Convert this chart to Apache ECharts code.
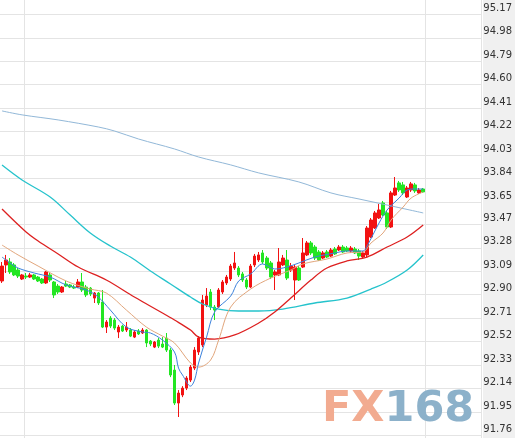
<!DOCTYPE html>
<html>
<head>
<meta charset="utf-8">
<script src="https://cdn.jsdelivr.net/npm/echarts@6/dist/echarts.min.js"></script>
<style>html,body{margin:0;padding:0;background:#fff}#c{width:515px;height:438px}</style>
</head>
<body>
<div id="c"></div>
<script>
// price axis tick labels
const tickLabels = [95.17, 94.98, 94.79, 94.60, 94.41, 94.22, 94.03, 93.84, 93.65, 93.47, 93.28, 93.09, 92.90, 92.71, 92.52, 92.33, 92.14, 91.95, 91.76];
// session separators (category index)
const dayBreaks = [6, 106];
// candles: [open, close, low, high]
const candles = [
[93.011,93.132,92.995,93.165],[93.141,93.181,93.076,93.222],[93.165,93.084,93.068,93.197],[93.141,93.060,93.051,93.157],
[93.100,93.051,93.035,93.116],[93.027,93.060,93.019,93.068],[93.051,93.043,93.027,93.076],[93.043,93.060,93.035,93.076],
[93.060,93.027,93.019,93.068],[93.043,93.011,93.003,93.051],[93.027,92.995,92.987,93.035],[92.995,93.084,92.987,93.092],
[93.060,93.019,93.003,93.076],[93.003,92.898,92.873,93.011],[92.970,92.922,92.906,92.987],[92.922,92.962,92.914,92.970],
[92.987,92.970,92.962,93.011],[92.979,92.962,92.954,92.987],[92.962,92.954,92.946,92.979],[92.962,93.003,92.954,93.027],
[93.003,92.938,92.922,93.076],[92.962,92.898,92.881,92.979],[92.954,92.906,92.889,92.962],[92.873,92.914,92.833,92.922],
[92.914,92.833,92.817,92.922],[92.841,92.638,92.630,92.938],[92.638,92.679,92.590,92.695],[92.711,92.646,92.630,92.727],
[92.695,92.630,92.614,92.711],[92.598,92.638,92.549,92.655],[92.646,92.606,92.598,92.655],[92.614,92.638,92.598,92.679],
[92.614,92.565,92.557,92.630],[92.557,92.598,92.549,92.614],[92.606,92.582,92.574,92.622],[92.590,92.614,92.582,92.630],
[92.614,92.509,92.476,92.622],[92.525,92.501,92.484,92.533],[92.476,92.517,92.468,92.525],[92.533,92.484,92.468,92.549],
[92.501,92.476,92.468,92.557],[92.549,92.452,92.436,92.590],[92.452,92.250,92.233,92.468],[92.290,92.023,92.007,92.331],
[92.023,92.104,91.910,92.128],[92.088,92.144,92.071,92.160],[92.144,92.225,92.128,92.241],[92.209,92.314,92.193,92.331],
[92.306,92.452,92.290,92.476],[92.436,92.549,92.412,92.565],[92.493,92.857,92.476,92.898],[92.817,92.889,92.800,92.954],
[92.922,92.800,92.776,92.946],[92.800,92.776,92.695,92.817],[92.800,92.938,92.792,92.954],[92.922,93.003,92.906,93.019],
[92.995,93.043,92.979,93.060],[93.027,93.132,93.011,93.149],[93.116,93.157,93.100,93.246],[93.116,93.060,93.043,93.132],
[93.068,93.019,93.003,93.084],[93.019,92.962,92.946,93.035],[92.962,93.132,92.954,93.149],[93.141,93.213,93.124,93.230],
[93.181,93.222,93.165,93.246],[93.238,93.165,93.149,93.262],[93.197,93.116,93.100,93.213],[93.157,93.043,93.027,93.173],
[93.060,93.084,92.938,93.100],[93.060,93.165,93.051,93.278],[93.141,93.197,93.132,93.222],[93.181,93.035,93.019,93.262],
[93.100,93.132,93.084,93.157],[93.019,93.124,92.857,93.141],[93.116,93.019,93.011,93.132],[93.124,93.238,93.116,93.359],
[93.222,93.319,93.213,93.335],[93.319,93.238,93.222,93.335],[93.286,93.197,93.181,93.302],[93.246,93.181,93.173,93.262],
[93.197,93.238,93.189,93.254],[93.246,93.205,93.197,93.262],[93.213,93.262,93.205,93.278],[93.270,93.230,93.222,93.286],
[93.262,93.286,93.254,93.302],[93.286,93.246,93.238,93.302],[93.278,93.254,93.246,93.294],[93.254,93.278,93.238,93.294],
[93.270,93.238,93.230,93.286],[93.254,93.213,93.181,93.270],[93.205,93.238,93.189,93.254],[93.222,93.440,93.205,93.456],
[93.367,93.505,93.359,93.521],[93.440,93.562,93.432,93.578],[93.521,93.586,93.513,93.635],[93.643,93.545,93.537,93.659],
[93.562,93.448,93.432,93.578],[93.448,93.724,93.440,93.740],[93.707,93.764,93.699,93.853],[93.805,93.748,93.732,93.821],
[93.789,93.724,93.707,93.813],[93.691,93.764,93.683,93.780],[93.748,93.797,93.732,93.813],[93.789,93.740,93.724,93.805],
[93.724,93.748,93.716,93.764],[93.756,93.732,93.724,93.764]
];
// moving averages: [candle index, value]
const maShort = [[0,93.205],[2,93.157],[4,93.116],[8,93.076],[12,93.043],[16,92.979],[21,92.938],[24,92.881],[27,92.776],[31,92.638],[35,92.598],[37,92.590],[40,92.533],[43,92.436],[44,92.306],[45,92.250],[47,92.160],[48,92.209],[49,92.347],[51,92.557],[53,92.760],[57,92.889],[59,93.011],[62,93.068],[65,93.149],[68,93.108],[71,93.124],[74,93.157],[78,93.205],[83,93.238],[86,93.254],[90,93.254],[91,93.294],[94,93.481],[96,93.586],[99,93.683],[101,93.748],[103,93.756],[105,93.756]];
const maMid = [[0,93.302],[4,93.222],[9,93.132],[16,93.011],[22,92.946],[26,92.914],[31,92.776],[36,92.638],[40,92.565],[43,92.509],[47,92.347],[49,92.314],[52,92.371],[54,92.533],[57,92.800],[62,92.946],[67,93.035],[72,93.100],[75,93.149],[81,93.189],[86,93.238],[90,93.246],[92,93.319],[95,93.400],[97,93.505],[100,93.610],[102,93.683],[105,93.732]];
const maRed = [[0,93.594],[6,93.408],[9,93.335],[14,93.230],[19,93.124],[26,93.019],[33,92.881],[40,92.752],[43,92.695],[47,92.614],[49,92.557],[53,92.541],[58,92.574],[64,92.671],[68,92.760],[72,92.873],[77,93.019],[81,93.116],[86,93.173],[91,93.205],[96,93.286],[101,93.367],[105,93.464]];
const maCyan = [[0,93.950],[5,93.829],[12,93.691],[17,93.545],[22,93.400],[27,93.294],[32,93.205],[37,93.092],[42,92.987],[47,92.881],[50,92.825],[54,92.784],[59,92.768],[64,92.768],[70,92.784],[78,92.833],[86,92.873],[92,92.946],[96,93.003],[101,93.100],[105,93.222]];
const maLong = [[0,94.388],[5,94.356],[14,94.315],[24,94.258],[28,94.226],[34,94.161],[43,94.080],[49,94.015],[57,93.951],[64,93.886],[74,93.813],[82,93.724],[89,93.675],[96,93.626],[105,93.562]];
const slotCount = 120;
const categories = Array.from({length: slotCount}, (_, i) => String(i + 1));

const chart = echarts.init(document.getElementById('c'));
const line = (data, color, width) => ({
  type: 'line', data, smooth: 0.35, symbol: 'none', z: 5, silent: true,
  lineStyle: {color, width}
});
chart.setOption({
  animation: false,
  backgroundColor: '#fff',
  graphic: [
    {type: 'rect', right: 0, top: 0, shape: {width: 32, height: 438}, style: {fill: '#f0f0f0'}, z: -10},
    {type: 'text', left: 322, top: 388, z: 100, style: {
      text: '{a|FX}{b|168}',
      rich: {
        a: {fill: '#f2ab90', font: 'bold 43px "DejaVu Sans"'},
        b: {fill: '#8cb1ca', font: 'bold 43px "DejaVu Sans"'}
      }
    }}
  ],
  grid: {left: 0, right: 32, top: 0, bottom: 0},
  xAxis: {
    type: 'category', data: categories, boundaryGap: true,
    axisLine: {show: false}, axisTick: {show: false}, axisLabel: {show: false},
    splitLine: {show: true, interval: (idx) => dayBreaks.includes(idx), lineStyle: {color: '#e4e4e4', width: 1}}
  },
  yAxis: {
    type: 'value', position: 'right', min: 91.74, max: 95.286, scale: true,
    axisLine: {show: false},
    axisTick: {show: false, customValues: tickLabels},
    axisLabel: {
      customValues: tickLabels, inside: false, margin: 2, align: 'left', verticalAlign: 'bottom',
      padding: [0, 0, 1, 0],
      color: '#333', fontSize: 10, fontFamily: 'DejaVu Sans',
      formatter: (v) => v.toFixed(2)
    },
    splitLine: {show: true, lineStyle: {color: '#e4e4e4', width: 1}}
  },
  series: [
    {
      type: 'candlestick', data: candles, barWidth: 3, z: 3,
      itemStyle: {color: '#f21212', color0: '#22e622', borderColor: '#f21212', borderColor0: '#22e622', borderWidth: 1}
    },
    line(maLong, '#92b8d8', 1),
    line(maCyan, '#25c3cc', 1.3),
    line(maRed, '#dd2020', 1.3),
    line(maMid, '#e2a67c', 1),
    line(maShort, '#3c82dc', 1)
  ]
});
</script>
</body>
</html>
